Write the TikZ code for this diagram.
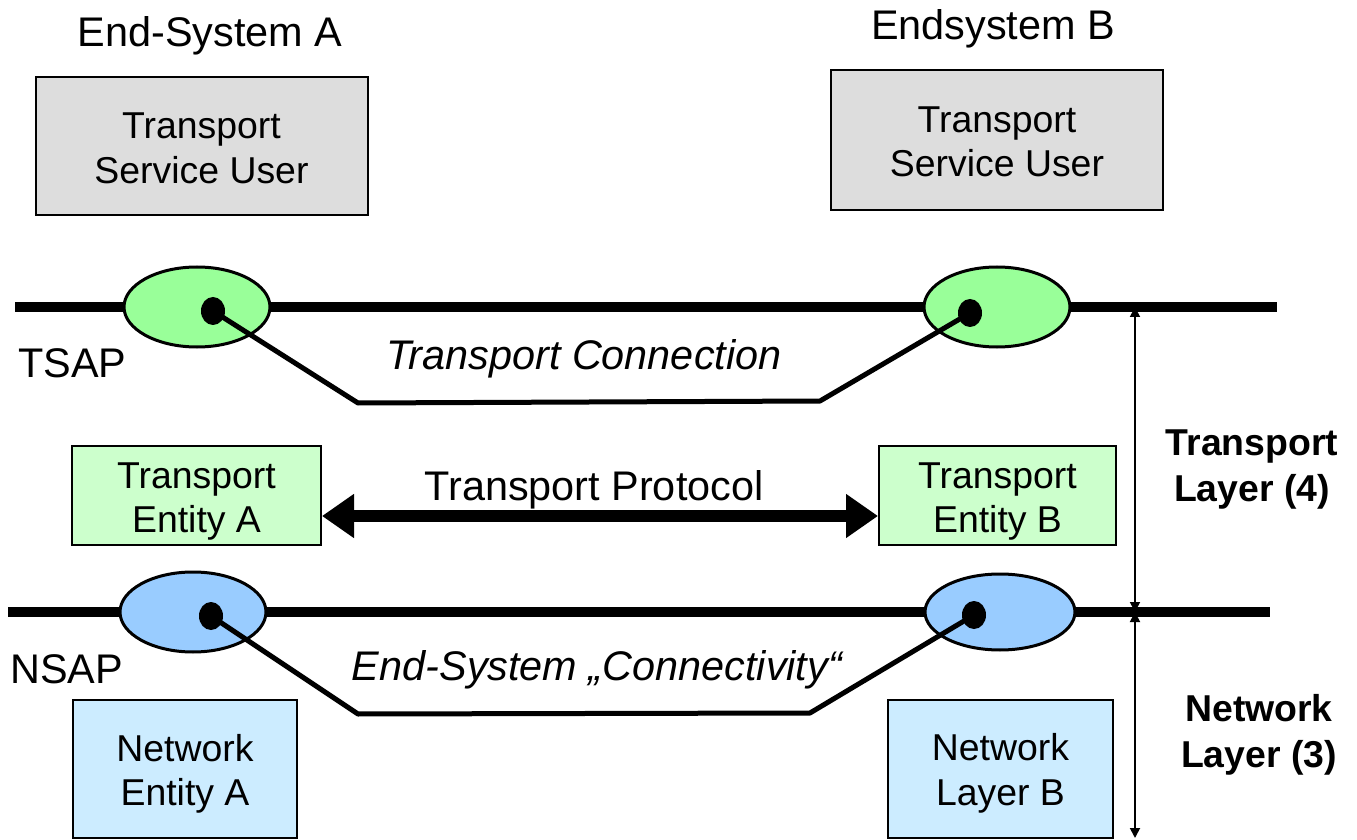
\documentclass[tikz,border=0pt]{standalone}
\usepackage{fontspec}
\setmainfont{Liberation Sans}
\usetikzlibrary{arrows.meta,shapes.geometric}
\definecolor{grayfill}{HTML}{DDDDDD}
\definecolor{greenfill}{HTML}{99FF99}
\definecolor{lgreen}{HTML}{CCFFCC}
\definecolor{bluefill}{HTML}{99CCFF}
\definecolor{lblue}{HTML}{CCECFF}
\begin{document}
\begin{tikzpicture}[x=0.5pt,y=-0.5pt,
  lbl/.style={font=\fontsize{20.7}{24}\selectfont,align=center,inner sep=0pt},
  boldlbl/.style={font=\bfseries\fontsize{18.7}{23}\selectfont,align=center,inner sep=0pt},
  box/.style={draw,line width=1pt,inner sep=0pt},
  boxtxt/.style={align=center,inner sep=0pt,font=\fontsize{18.7}{22.3}\selectfont},
  sap/.style={ellipse,draw,line width=1.5pt,inner sep=0pt},
  dot/.style={ellipse,fill=black,inner sep=0pt,minimum width=12pt,minimum height=14pt},
  bar/.style={line width=5pt},
  conn/.style={line width=2.5pt,line join=round},
  dim/.style={line width=0.9pt,{Triangle[length=5pt,width=5pt]}-{Triangle[length=5pt,width=5pt]}}]
\useasboundingbox (0,0) rectangle (1357,840);
% titles
\node[lbl] (tA) at (210,36) {End-System A};
\node[lbl] (tB) at (993,29) {Endsystem B};
% user boxes
\node[box,fill=grayfill,minimum width=166pt,minimum height=69pt] (uA) at (201.5,146) {};
\node[boxtxt] (uAt) at ([yshift=-1.2pt]uA.center) {Transport\\Service User};
\node[box,fill=grayfill,minimum width=166pt,minimum height=70pt] (uB) at (997,140) {};
\node[boxtxt] (uBt) at ([yshift=-1pt]uB.center) {Transport\\Service User};
% top bar
\coordinate (tl) at (15,307);
\coordinate (tr) at (1277,307);
\draw[bar] (tl) -- (tr);
\node[sap,fill=greenfill,minimum width=73pt,minimum height=40pt] (eA) at (197,307) {};
\node[sap,fill=greenfill,minimum width=73pt,minimum height=40pt] (eB) at (997,307) {};
\node[dot] (dA) at (213,311) {};
\node[dot] (dB) at (970,313) {};
\coordinate (c1) at (358,403);
\coordinate (c2) at (820,401);
\draw[conn] (dA.center) -- (c1) -- (c2) -- (dB.center);
\node[lbl,anchor=west] (tsap) at (18,363) {TSAP};
\node[lbl,font=\itshape\fontsize{20.7}{24}\selectfont] (tc) at (584,359) {Transport Connection};
% entities
\node[box,fill=lgreen,minimum width=124.5pt,minimum height=49.5pt] (teA) at (196.5,495.5) {};
\node[boxtxt] (teAt) at ([yshift=-3pt]teA.center) {Transport\\Entity A};
\node[box,fill=lgreen,minimum width=118.5pt,minimum height=49.5pt] (teB) at (997.5,495.5) {};
\node[boxtxt] (teBt) at ([yshift=-3pt]teB.center) {Transport\\Entity B};
\node[lbl] (tp) at (594,490) {Transport Protocol};
\draw[line width=6pt,{Triangle[length=16pt,width=21pt]}-{Triangle[length=16pt,width=21pt]}]
  (teA.east |- 0,516) -- (teB.west |- 0,516);
% bottom bar
\coordinate (bl) at (8,612);
\coordinate (br) at (1270,612);
\draw[bar] (bl) -- (br);
\node[sap,fill=bluefill,minimum width=73pt,minimum height=40pt] (nA) at (193,612) {};
\node[sap,fill=bluefill,minimum width=75pt,minimum height=38pt] (nB) at (1000,612) {};
\node[dot] (ndA) at (211,616) {};
\node[dot] (ndB) at (974,615) {};
\coordinate (c3) at (358,714);
\coordinate (c4) at (810,713);
\draw[conn] (ndA.center) -- (c3) -- (c4) -- (ndB.center);
\node[lbl,anchor=west] (nsap) at (10,669) {NSAP};
\node[lbl,font=\itshape\fontsize{20.7}{24}\selectfont] (ec) at (597,670) {End-System „Connectivity“};
\node[box,fill=lblue,minimum width=112pt,minimum height=69pt] (neA) at (185,769) {};
\node[boxtxt] (neAt) at ([yshift=-2.5pt]neA.center) {Network\\Entity A};
\node[box,fill=lblue,minimum width=112.5pt,minimum height=69pt] (neB) at (1000.5,769) {};
\node[boxtxt] (neBt) at ([yshift=-2.3pt]neB.center) {Network\\Layer B};
% dimension arrows
\coordinate (v1) at (1135,307);
\coordinate (v2) at (1135,612);
\coordinate (v3) at (1135,838);
\draw[dim] (v1) -- (v2);
\draw[dim] (v2) -- (v3);
\node[boldlbl] (tl4) at (1252,470) {Transport\\Layer (4)};
\node[boldlbl] (nl3) at (1259,735) {Network\\Layer (3)};
\end{tikzpicture}
\end{document}
